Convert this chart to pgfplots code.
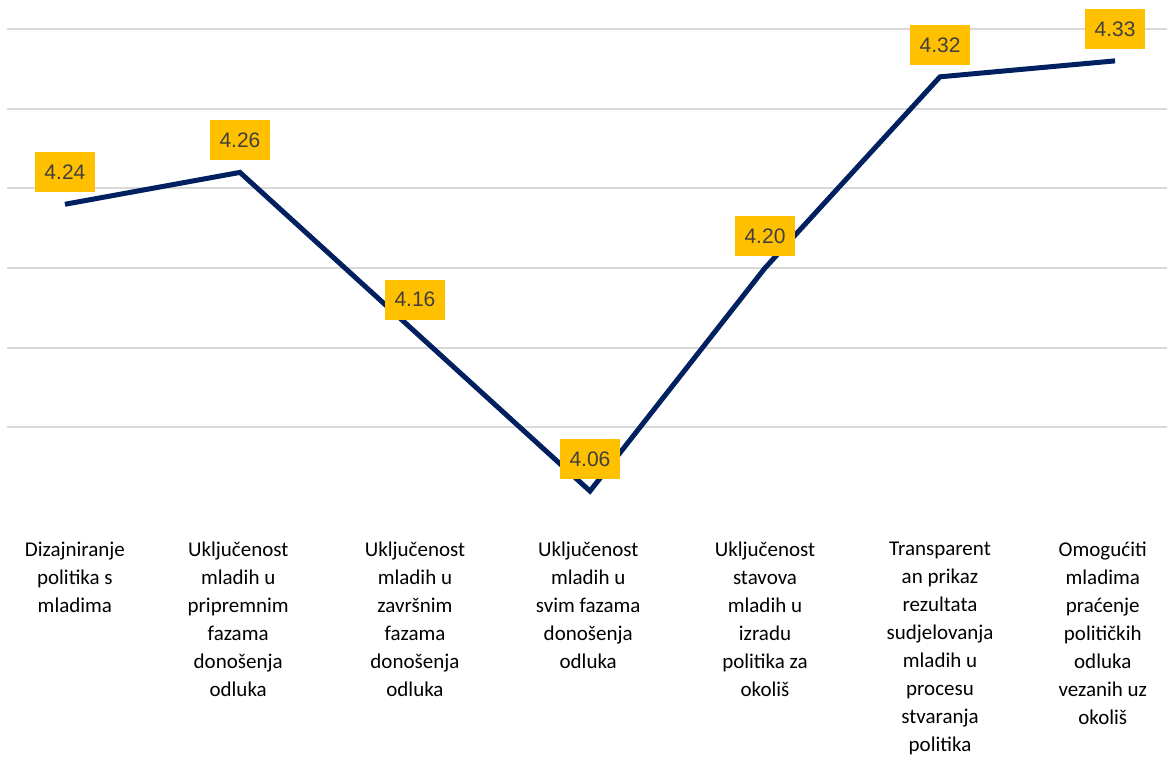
\documentclass[border=0pt]{standalone}
\usepackage{fontspec}
\setmainfont{Carlito}
\newfontfamily\arial{Liberation Sans}
\usepackage{pgfplots}
\pgfplotsset{compat=1.18}
\definecolor{navy}{HTML}{002060}
\definecolor{gold}{HTML}{FFC000}
\definecolor{gridc}{HTML}{D9D9D9}
\definecolor{labc}{HTML}{404040}
\begin{document}
\begin{tikzpicture}
\useasboundingbox (-3.5pt,-125pt) rectangle (581pt,253.5pt);
\begin{axis}[
  at={(0,0)}, anchor=south west,
  scale only axis,
  width=580pt, height=239pt,
  xmin=-0.331, xmax=6.297,
  ymin=4.05, ymax=4.35,
  clip=false,
  axis line style={draw=none},
  major tick length=0pt,
  ytick={4.10,4.15,4.20,4.25,4.30,4.35},
  yticklabels={},
  ymajorgrids,
  grid style={gridc, line width=1pt},
  xtick={0.057,0.99,2.0,2.99,4.0,5.0,5.93},
  xticklabels={
    {Dizajniranje\\politika s\\mladima},
    {Uključenost\\mladih u\\pripremnim\\fazama\\donošenja\\odluka},
    {Uključenost\\mladih u\\završnim\\fazama\\donošenja\\odluka},
    {Uključenost\\mladih u\\svim fazama\\donošenja\\odluka},
    {Uključenost\\stavova\\mladih u\\izradu\\politika za\\okoliš},
    {Transparent\\an prikaz\\rezultata\\sudjelovanja\\mladih u\\procesu\\stvaranja\\politika},
    {Omogućiti\\mladima\\praćenje\\političkih\\odluka\\vezanih uz\\okoliš}},
  xticklabel style={align=center, anchor=north, yshift=-14pt,
    font=\fontsize{10.5}{14}\selectfont, text=black},
  nodes near coords={\arial\pgfmathprintnumber[fixed,fixed zerofill,precision=2,assume math mode=true]{\pgfplotspointmeta}},
  every node near coord/.append style={anchor=center, yshift=16pt,
    fill=gold, text=labc, minimum width=30pt, minimum height=20pt,
    inner sep=2pt, font=\fontsize{10.5}{12}\selectfont},
]
\addplot[navy, line width=2.5pt, mark=none] coordinates {
  (0,4.24) (1,4.26) (2,4.16) (3,4.06) (4,4.20) (5,4.32) (6,4.33)
};
\end{axis}
\end{tikzpicture}
\end{document}
